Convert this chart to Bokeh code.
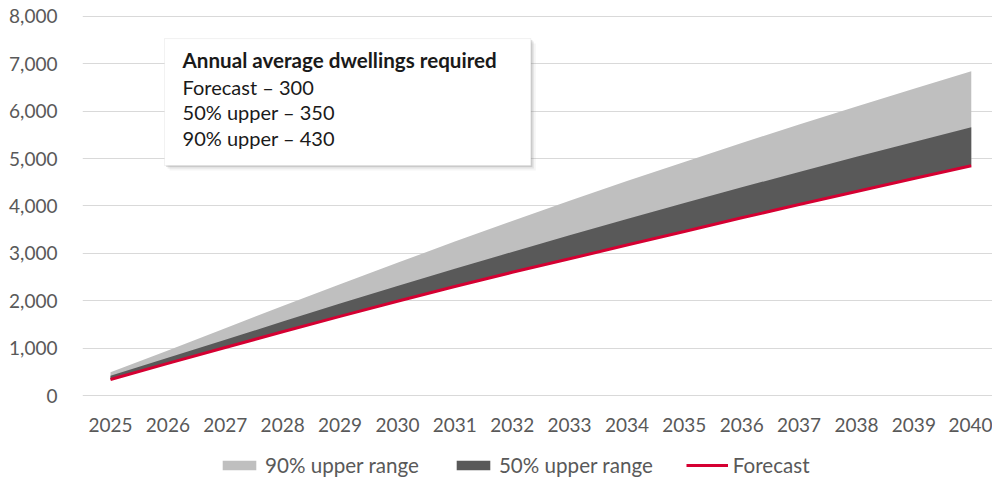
from bokeh.plotting import figure
from bokeh.layouts import column
from bokeh.models import (Range1d, FixedTicker, NumeralTickFormatter, Legend,
                          LegendItem, Label, BoxAnnotation, ColumnDataSource)
from bokeh.embed import file_html
from bokeh.resources import INLINE

# ---------------- data ----------------
years = list(range(2025, 2041))
forecast = [340, 680, 1015, 1345, 1670, 1990, 2300, 2600, 2885, 3175,
            3460, 3750, 4030, 4305, 4580, 4850]
upper_50 = [420, 795, 1175, 1560, 1940, 2310, 2675, 3030, 3380, 3724,
            4062, 4393, 4719, 5038, 5351, 5660]
upper_90 = [490, 950, 1420, 1890, 2350, 2800, 3250, 3685, 4110, 4525,
            4930, 5330, 5720, 6100, 6475, 6840]
y_ticks = [0, 1000, 2000, 3000, 4000, 5000, 6000, 7000, 8000]
legend_labels = ["90% upper range", "50% upper range", "Forecast"]
box_title = "Annual average dwellings required"
box_lines = ["Forecast \u2013 300", "50% upper \u2013 350", "90% upper \u2013 430"]

# ---------------- styles ----------------
FONT = "Lato"
LIGHT = "#BFBFBF"
DARK = "#595959"
RED = "#D50032"
AXIS_TXT = "#595959"
GRID = "#D9D9D9"

src = ColumnDataSource(dict(year=years, forecast=forecast,
                            upper_50=upper_50, upper_90=upper_90))

p = figure(width=992, height=440, output_backend="svg", toolbar_location=None,
           x_range=Range1d(2024.512, 2040.37), y_range=Range1d(-20, 8040),
           min_border_left=82, min_border_right=0, min_border_top=14,
           min_border_bottom=44)
p.outline_line_color = None
p.background_fill_color = "white"
p.border_fill_color = "white"

p.varea(x="year", y1="forecast", y2="upper_90", source=src,
        fill_color=LIGHT, fill_alpha=1)
p.varea(x="year", y1="forecast", y2="upper_50", source=src,
        fill_color=DARK, fill_alpha=1)
p.line(x="year", y="forecast", source=src, line_color=RED, line_width=3)

# axes
p.xaxis.ticker = FixedTicker(ticks=years)
p.yaxis.ticker = FixedTicker(ticks=y_ticks)
p.yaxis.formatter = NumeralTickFormatter(format="0,0")
for ax in (p.xaxis, p.yaxis):
    ax.axis_line_color = None
    ax.major_tick_line_color = None
    ax.minor_tick_line_color = None
    ax.major_label_text_font = FONT
    ax.major_label_text_font_size = "19px"
    ax.major_label_text_color = AXIS_TXT
p.xaxis.major_label_standoff = 15
p.yaxis.major_label_standoff = 19

p.xgrid.grid_line_color = None
p.ygrid.grid_line_color = GRID
p.ygrid.grid_line_width = 1

# annotation box with a soft shadow
px_x = 1 / 57.34
px_y = 1 / 0.0474
bx_l, bx_r, bx_b, bx_t = 2025.942, 2032.325, 4852, 7532
for off, alpha in ((5, 0.08), (3, 0.15), (1.5, 0.25)):
    p.add_layout(BoxAnnotation(left=bx_l + off * px_x, right=bx_r + off * px_x,
                               bottom=bx_b - off * px_y, top=bx_t - off * px_y,
                               fill_color="#808080", fill_alpha=alpha,
                               line_color=None))
p.add_layout(BoxAnnotation(left=bx_l, right=bx_r, bottom=bx_b, top=bx_t,
                           fill_color="white", fill_alpha=1,
                           line_color="#D0D0D0", line_width=1))

tx = 2026.256
p.add_layout(Label(x=tx, y=7070, text=box_title, text_font=FONT,
                   text_font_size="20.6px", text_font_style="bold",
                   text_color="#1A1A1A", text_baseline="middle"))
for i, t in enumerate(box_lines):
    p.add_layout(Label(x=tx, y=6520 - i * 540, text=t, text_font=FONT,
                       text_font_size="20px", text_color="#1A1A1A",
                       text_baseline="middle"))

# ---------------- legend strip (same data, drawn out of view) ----------------
q = figure(width=992, height=39, output_backend="svg", toolbar_location=None,
           x_range=Range1d(0, 1), y_range=Range1d(0, 1),
           x_axis_location=None, y_axis_location=None,
           min_border_left=0, min_border_right=0, min_border_top=0,
           min_border_bottom=0)
q.outline_line_color = None
q.xgrid.visible = False
q.ygrid.visible = False
l90 = q.varea(x="year", y1="forecast", y2="upper_90", source=src,
              fill_color=LIGHT, fill_alpha=1)
l50 = q.varea(x="year", y1="forecast", y2="upper_50", source=src,
              fill_color=DARK, fill_alpha=1)
lf = q.line(x="year", y="forecast", source=src, line_color=RED, line_width=3)
legend = Legend(items=[LegendItem(label=legend_labels[0], renderers=[l90]),
                       LegendItem(label=legend_labels[1], renderers=[l50]),
                       LegendItem(label=legend_labels[2], renderers=[lf])],
                orientation="horizontal", location=(136, 2),
                glyph_width=42, glyph_height=12, label_standoff=5, spacing=33,
                label_text_font=FONT, label_text_font_size="20.6px",
                label_text_color=AXIS_TXT, border_line_color=None,
                background_fill_alpha=0, padding=0, margin=0)
q.add_layout(legend, "center")

open("out.html", "w").write(file_html(column(p, q, spacing=0), INLINE))
